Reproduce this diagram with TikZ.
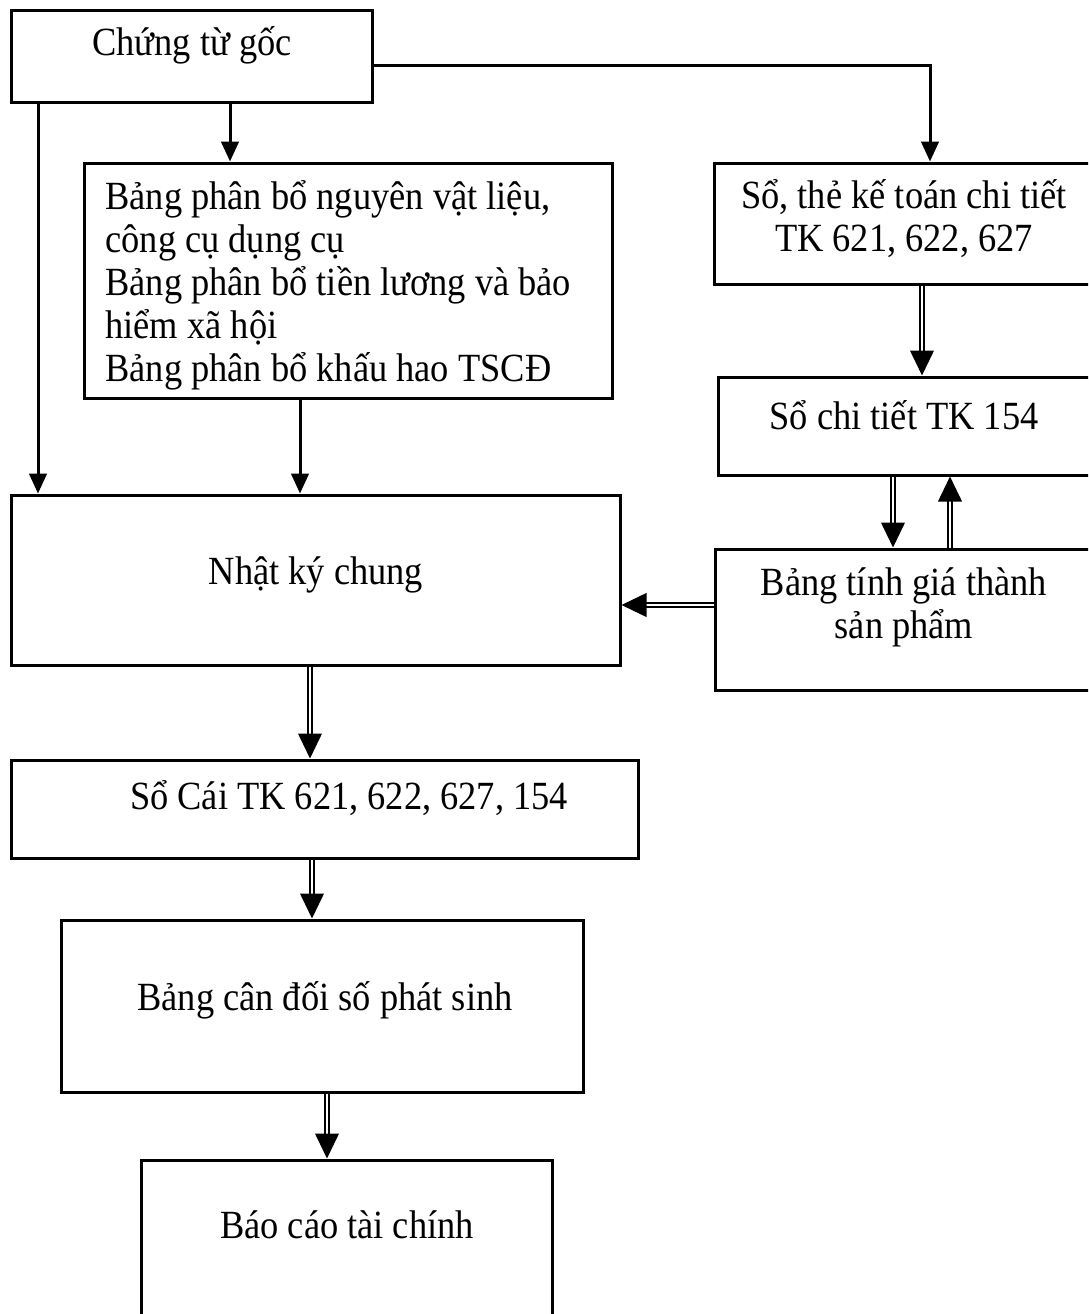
\documentclass[tikz,border=0pt]{standalone}
\usepackage{fontspec}
\setmainfont{Liberation Serif}[FakeStretch=0.91]
\usetikzlibrary{arrows.meta}
\tikzset{
  box/.style={draw, line width=1.2pt, inner sep=0pt},
  txt/.style={inner sep=0pt, font=\fontsize{16pt}{17.2pt}\selectfont, align=center},
  arr/.style={line width=1.2pt, -{Triangle[length=8pt,width=7pt]}},
  dbl/.style={double, line width=0.6pt, double distance=1pt, -{Triangle[length=10pt,width=9.5pt]}},
}

\begin{document}
\begin{tikzpicture}[x=0.4pt, y=-0.4pt]
  \useasboundingbox (0,0) rectangle (1088,1314);
  \clip (0,0) rectangle (1088,1314);
  % Boxes
  \node[box, minimum width=144pt, minimum height=36.8pt] (cg) at (192,56) {};
  \node[box, minimum width=210.8pt, minimum height=94pt] (bpb) at (348.5,280.5) {};
  \node[box, minimum width=152pt, minimum height=48.4pt] (st) at (904,223.5) {};
  \node[box, minimum width=150.4pt, minimum height=39.2pt] (s154) at (906,426) {};
  \node[box, minimum width=151.6pt, minimum height=56.4pt] (bt) at (904.5,619.5) {};
  \node[box, minimum width=243.2pt, minimum height=68pt] (nkc) at (316,580) {};
  \node[box, minimum width=250.4pt, minimum height=39.2pt] (sc) at (325,809) {};
  \node[box, minimum width=208.4pt, minimum height=68.8pt] (bcd) at (322.5,1006) {};
  \node[box, minimum width=164pt, minimum height=72pt] (bctc) at (347,1250) {};
  % Texts
  \node[txt] (cgt) at (192,45) {Chứng từ gốc};
  \node[txt, anchor=west, align=left] (bpbt) at (105,285)
    {Bảng phân bổ nguyên vật liệu,\\ công cụ dụng cụ\\ Bảng phân bổ tiền lương và bảo\\ hiểm xã hội\\ Bảng phân bổ khấu hao TSCĐ};
  \node[txt] (stt) at (904,219) {Sổ, thẻ kế toán chi tiết\\ TK 621, 622, 627};
  \node[txt] (s154t) at (904,415) {Sổ chi tiết TK 154};
  \node[txt] (btt) at (904,607) {Bảng tính giá thành\\ sản phẩm};
  \node[txt] (nkct) at (316,575) {Nhật ký chung};
  \node[txt] (sct) at (349,798) {Sổ Cái TK 621, 622, 627, 154};
  \node[txt] (bcdt) at (325,1000) {Bảng cân đối số phát sinh};
  \node[txt] (bctct) at (347,1225) {Báo cáo tài chính};
  % Connectors
  \coordinate (xa) at (38,0);
  \coordinate (xb) at (230,0);
  \coordinate (xc) at (930,65);
  \coordinate (xd) at (300,0);
  \coordinate (xe) at (922,0);
  \coordinate (xf) at (893,0);
  \coordinate (xg) at (950,0);
  \coordinate (xh) at (310,0);
  \coordinate (xi) at (312,0);
  \coordinate (xj) at (327,0);
  \coordinate (ya) at (0,65);
  \coordinate (yb) at (0,605);
  \draw[arr] (xa |- cg.south) -- (xa |- nkc.north);
  \draw[arr] (xb |- cg.south) -- (xb |- bpb.north);
  \draw[arr] (cg.east |- ya) -- (xc) -- (xc |- st.north);
  \draw[arr] (xd |- bpb.south) -- (xd |- nkc.north);
  \draw[dbl] (xe |- st.south) -- (xe |- s154.north);
  \draw[dbl] (xf |- s154.south) -- (xf |- bt.north);
  \draw[dbl] (xg |- bt.north) -- (xg |- s154.south);
  \draw[dbl] (bt.west |- yb) -- (nkc.east |- yb);
  \draw[dbl] (xh |- nkc.south) -- (xh |- sc.north);
  \draw[dbl] (xi |- sc.south) -- (xi |- bcd.north);
  \draw[dbl] (xj |- bcd.south) -- (xj |- bctc.north);
\end{tikzpicture}
\end{document}
